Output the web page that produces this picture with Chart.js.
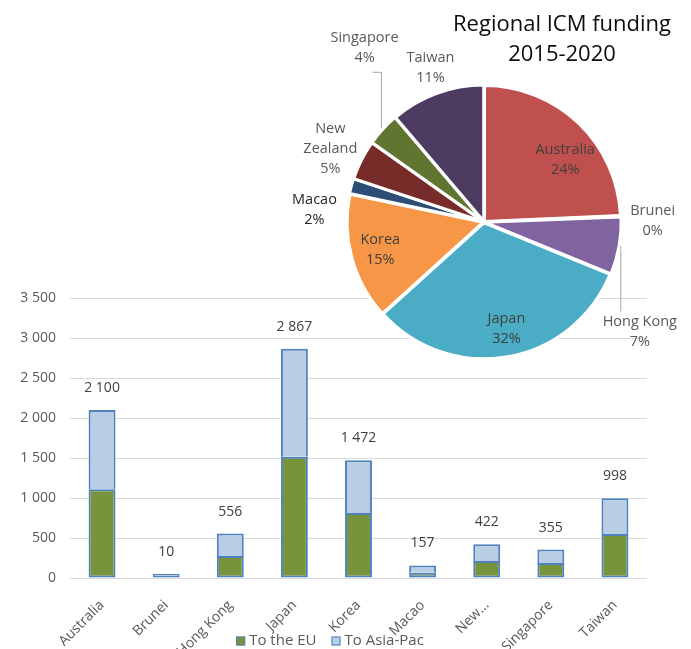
<!DOCTYPE html>
<html>
<head>
<meta charset="utf-8">
<script src="https://cdn.jsdelivr.net/npm/chart.js@4.4.1/dist/chart.umd.min.js"></script>
<style>
  html, body { margin: 0; padding: 0; background: #fff; }
  #wrap { position: relative; width: 691px; height: 649px; }
  #wrap canvas { position: absolute; left: 0; top: 0; }
  #pie { pointer-events: none; }
</style>
</head>
<body>
<div id="wrap">
  <canvas id="bars" width="691" height="649"></canvas>
  <canvas id="pie" width="691" height="649"></canvas>
</div>
<script>
// Regional ICM funding: stacked bars (EU / Asia-Pac) per country, pie of regional shares on top.

const categories = ['Australia', 'Brunei', 'Hong Kong', 'Japan', 'Korea', 'Macao', 'New Zealand', 'Singapore', 'Taiwan'];
const tickLabels = ['Australia', 'Brunei', 'Hong Kong', 'Japan', 'Korea', 'Macao', 'New...', 'Singapore', 'Taiwan'];
const toEU = [1110, 5, 275, 1517, 812, 65, 212, 187, 550];
const toAsiaPac = [990, 5, 281, 1350, 660, 92, 210, 168, 448];
const seriesNames = ['To the EU', 'To Asia-Pac'];
const yMax = 3500;
const yStep = 500;

const pieShares = [24.3, 0.1, 6.8, 32.1, 15.0, 1.8, 4.7, 4.0, 11.2];
const pieNames = [['Australia'], ['Brunei'], ['Hong Kong'], ['Japan'], ['Korea'], ['Macao'], ['New', 'Zealand'], ['Singapore'], ['Taiwan']];
const titleLines = ['Regional ICM funding', '2015-2020'];

const PIE_COLORS = ['#C0504D', '#9BBB59', '#8064A2', '#4BACC6', '#F79646', '#2C4D75', '#772C2A', '#5F7530', '#4D3B62'];

// where each pie label sits: distance as fraction of radius, extra turn (deg) from the slice middle
const labelPlacement = [
    { dist: 0.75, turn: 9, color: '#404040' },
    { dist: 1.24, turn: 2, color: '#595959' },
    { dist: 1.40, turn: 25, color: '#595959', leader: 'down' },
    { dist: 0.80, turn: -2, color: '#404040' },
    { dist: 0.79, turn: 0, color: '#404040' },
    { dist: 1.25, turn: -11, color: '#262626' },
    { dist: 1.25, turn: -1.5, color: '#595959' },
    { dist: 1.55, turn: 13, color: '#595959', leader: 'up' },
    { dist: 1.20, turn: 1, color: '#595959' },
];

Chart.defaults.font.family = "'Open Sans', sans-serif";

const fmt = (v) => String(v).replace(/\B(?=(\d{3})+(?!\d))/g, ' ');

const totalsPlugin = {
    id: 'totals',
    afterDatasetsDraw(chart) {
        const ctx = chart.ctx;
        const top = chart.getDatasetMeta(1).data;
        ctx.save();
        ctx.font = "14px 'Open Sans'";
        ctx.fillStyle = '#404040';
        ctx.textAlign = 'center';
        ctx.textBaseline = 'middle';
        top.forEach((bar, i) => {
            ctx.fillText(fmt(toEU[i] + toAsiaPac[i]), bar.x, bar.y - 22);
        });
        ctx.restore();
    },
};

// legend under the rotated category labels (built-in legend would squeeze the axis)
const bottomLegend = {
    id: 'bottomLegend',
    afterDraw(chart) {
        const ctx = chart.ctx;
        const y = 641;
        const box = 9;
        const gap = 4;
        const itemGap = 15;
        ctx.save();
        ctx.font = "15px 'Open Sans'";
        ctx.textBaseline = 'middle';
        const ds = chart.data.datasets;
        const widths = ds.map((d) => box + gap + ctx.measureText(d.label).width);
        const total = widths.reduce((s, w) => s + w, 0) + itemGap * (ds.length - 1);
        let x = 330 - total / 2;
        ds.forEach((d, i) => {
            ctx.fillStyle = d.backgroundColor;
            ctx.fillRect(x, y - box / 2, box, box);
            ctx.strokeStyle = d.borderColor;
            ctx.lineWidth = 1;
            ctx.strokeRect(x + 0.5, y - box / 2 + 0.5, box - 1, box - 1);
            ctx.fillStyle = '#595959';
            ctx.fillText(d.label, x + box + gap, y);
            x += widths[i] + itemGap;
        });
        ctx.restore();
    },
};

new Chart(document.getElementById('bars'), {
    type: 'bar',
    data: {
        labels: tickLabels,
        datasets: [
            { label: seriesNames[0], data: toEU, backgroundColor: '#77933C', borderColor: '#4F81BD', borderWidth: 2, borderSkipped: false, minBarLength: 2 },
            { label: seriesNames[1], data: toAsiaPac, backgroundColor: '#B9CDE5', borderColor: '#4F81BD', borderWidth: 2, borderSkipped: 'start', minBarLength: 2 },
        ],
    },
    options: {
        responsive: false,
        animation: false,
        layout: { padding: { top: 298, right: 44, left: 0, bottom: 0 } },
        datasets: { bar: { barPercentage: 0.42, categoryPercentage: 1 } },
        scales: {
            x: {
                stacked: true,
                grid: { display: false },
                border: { display: false },
                ticks: { minRotation: 45, maxRotation: 45, color: '#595959', font: { size: 14 }, labelOffset: 0, padding: 11 },
                afterFit: (s) => { s.height = 71; },
            },
            y: {
                stacked: true,
                min: 0,
                max: yMax,
                grid: { color: '#D9D9D9', drawTicks: false },
                border: { display: false },
                ticks: { stepSize: yStep, color: '#595959', font: { size: 14 }, padding: 14, callback: (v) => fmt(v) },
                afterFit: (s) => { s.width = 70; },
            },
        },
        plugins: {
            legend: { display: false },
            tooltip: { enabled: false },
        },
    },
    plugins: [totalsPlugin, bottomLegend],
});

const pieLabelsPlugin = {
    id: 'pieLabels',
    afterDatasetsDraw(chart) {
        const ctx = chart.ctx;
        const arcs = chart.getDatasetMeta(0).data;
        ctx.save();
        ctx.textAlign = 'center';
        ctx.textBaseline = 'middle';
        const lh = 20;
        arcs.forEach((arc, i) => {
            const p = labelPlacement[i];
            const mid = (arc.startAngle + arc.endAngle) / 2;
            const a = mid + (p.turn * Math.PI) / 180;
            const R = arc.outerRadius;
            const lx = arc.x + Math.cos(a) * R * p.dist;
            const ly = arc.y + Math.sin(a) * R * p.dist;
            const lines = pieNames[i].concat(Math.round(pieShares[i]) + '%');
            const y0 = ly - ((lines.length - 1) * lh) / 2;
            if (p.leader) {
                const ex = arc.x + Math.cos(mid) * (R + 3);
                const ey = arc.y + Math.sin(mid) * (R + 3);
                ctx.strokeStyle = '#A6A6A6';
                ctx.lineWidth = 1;
                ctx.beginPath();
                ctx.moveTo(ex, ey);
                if (p.leader === 'down') {
                    ctx.lineTo(ex, y0 - 10);
                } else {
                    const yb = y0 + (lines.length - 1) * lh + 14;
                    ctx.lineTo(ex, yb);
                    ctx.lineTo(lx + 8, yb);
                }
                ctx.stroke();
            }
            ctx.font = "14.5px 'Open Sans'";
            ctx.fillStyle = p.color;
            lines.forEach((t, k) => ctx.fillText(t, lx, y0 + k * lh));
        });
        // title
        ctx.font = "22px 'Open Sans'";
        ctx.fillStyle = '#0D0D0D';
        titleLines.forEach((t, k) => ctx.fillText(t, 562, 25 + k * 30));
        ctx.restore();
    },
};

new Chart(document.getElementById('pie'), {
    type: 'pie',
    data: {
        labels: categories,
        datasets: [{ data: pieShares, backgroundColor: PIE_COLORS, borderColor: '#fff', borderWidth: 3, offset: 3, radius: 136 }],
    },
    options: {
        responsive: false,
        animation: false,
        layout: { padding: { left: 334, right: 57, top: 72, bottom: 277 } },
        plugins: { legend: { display: false }, tooltip: { enabled: false } },
    },
    plugins: [pieLabelsPlugin],
});
</script>
</body>
</html>
